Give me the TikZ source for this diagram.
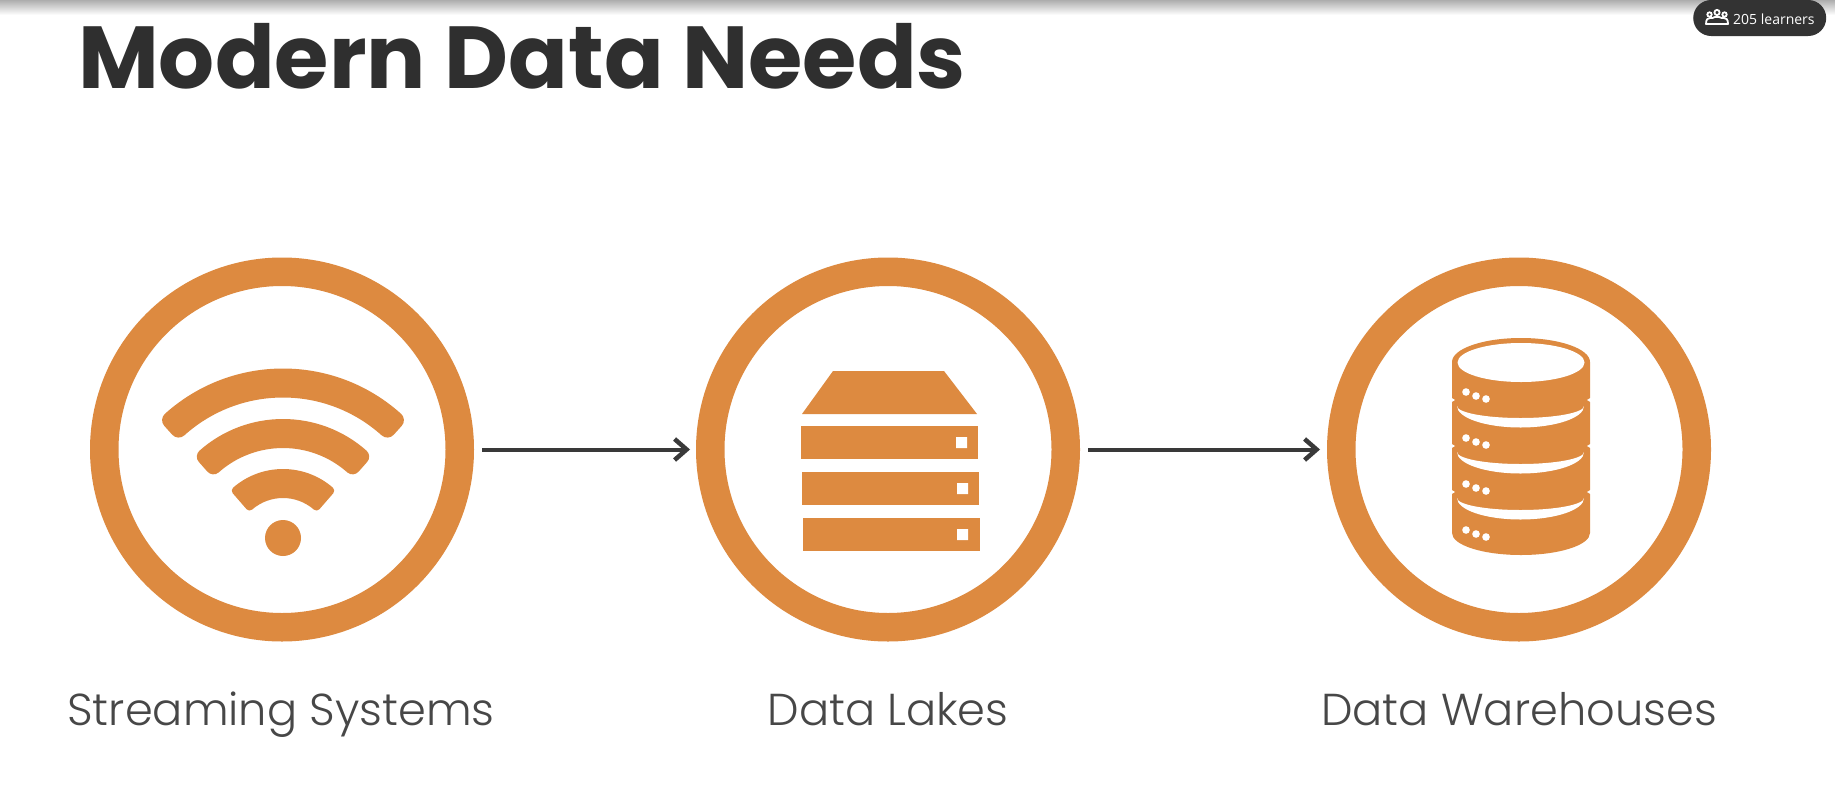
\documentclass[tikz,border=0pt]{standalone}
\usepackage{fontspec}
\usetikzlibrary{arrows.meta,calc}
\setmainfont{Lato}
\newfontfamily\titlefont{Poppins Bold}
\newfontfamily\labelfont{Poppins Light}
\newfontfamily\badgefont{Open Sans}
\definecolor{ringorange}{HTML}{DD8A40}
\definecolor{inktext}{HTML}{474747}
\definecolor{titleink}{HTML}{2F2F2F}
\definecolor{badgeink}{HTML}{333333}
\tikzset{
  ring/.style={circle,draw=ringorange,line width=28.5pt,minimum size=355.5pt,inner sep=0pt,outer sep=14.25pt,fill=white},
  caption/.style={anchor=base,text=inktext,font=\labelfont\fontsize{44.7}{60}\selectfont},
  flow/.style={draw=titleink!95!white,line width=4pt,-{Straight Barb[length=12pt,width=21pt,line width=4.5pt]}},
  ofill/.style={fill=ringorange},
  wband/.style={fill=ringorange,draw=ringorange,line join=round},
}
\newcommand{\wifiband}[4]{% mid radius, half thickness, corner radius, half angle
  \pgfmathsetmacro{\ro}{#1+#2-#3}\pgfmathsetmacro{\ri}{#1-#2+#3}
  \path[wband,line width=2*#3 pt]
    ($(283,545)+(-90-#4:\ro)$) arc[start angle=-90-#4,end angle=-90+#4,radius=\ro]
    -- ($(283,545)+(-90+#4:\ri)$) arc[start angle=-90+#4,end angle=-90-#4,radius=\ri] -- cycle;
}
\begin{document}
\begin{tikzpicture}[x=1pt,y=-1pt]
\useasboundingbox (0,0) rectangle (1835,795);
\fill[white] (0,0) rectangle (1835,795);
\shade[top color=black!32,bottom color=white,shading angle=0] (0,0) rectangle (1835,15);
% badge
\node[anchor=west,fill=badgeink,rounded corners=18pt,minimum width=133pt,minimum height=36pt,inner sep=0pt] (badge) at (1693,18) {};
\node[anchor=west,text=white,font=\badgefont\fontsize{14}{16}\selectfont,inner sep=0pt] (badgetext) at (1733,19) {205 learners};
\begin{scope}[white,line width=1.8pt]
  \draw (1717,12.5) circle (2.6) (1709.5,14.5) circle (2.2) (1724.5,14.5) circle (2.2);
  \draw[line join=round] (1706,24) .. controls (1706,19) and (1708,18) .. (1710,18) .. controls (1711,18) and (1712,18) .. (1712.5,18) .. controls (1714,16.5) and (1720,16.5) .. (1721.5,18) .. controls (1722,18) and (1723,18) .. (1724,18) .. controls (1726,18) and (1728,19) .. (1728,24) -- cycle;
\end{scope}
% title
\node[anchor=base west,inner sep=0pt,text=titleink,font=\titlefont\fontsize{88}{96}\selectfont] (title) at (78,88) {Modern Data Needs};
% rings
\node[ring] (stream) at (282,449.5) {};
\node[ring] (lake) at (888,449.5) {};
\node[ring] (wh) at (1519,449.5) {};
\draw[flow,shorten <=8pt,shorten >=6pt] (stream) -- (lake);
\draw[flow,shorten <=8pt,shorten >=7pt] (lake) -- (wh);
% wifi
\wifiband{162}{14.5}{8.5}{42}
\wifiband{111.5}{14.5}{8}{41.5}
\wifiband{61.5}{14.5}{4}{41}
\fill[ofill] (283,538) circle (18);
% server
\fill[ofill] (833,371) -- (944,371) -- (977,414) -- (802,414) -- cycle;
\fill[ofill] (801,426) rectangle (978,459);
\fill[ofill] (802,472) rectangle (979,505);
\fill[ofill] (803,518) rectangle (980,551);
\fill[white] (956,437) rectangle (967,448) (957,483) rectangle (968,494) (957,529) rectangle (968,540);
% database
\fill[ofill] (1452,362) arc[start angle=180,end angle=360,x radius=69,y radius=24]
  -- (1590,533) arc[start angle=0,end angle=180,x radius=69,y radius=22] -- cycle;
\fill[white] (1521,362.5) ellipse[x radius=63.5,y radius=19.5];
\foreach \dy in {0,46,92}{
  \fill[white] (1457,406+\dy) arc[start angle=180,end angle=0,x radius=63.5,y radius=12]
     arc[start angle=0,end angle=180,x radius=63.5,y radius=21.5] -- cycle;
  \fill[white] (1450,397+\dy) -- (1455,400+\dy) -- (1450,403+\dy) -- cycle;
  \fill[white] (1592,397+\dy) -- (1587,400+\dy) -- (1592,403+\dy) -- cycle;
}
\foreach \dy in {0,46,92,138}{
  \fill[white] (1466,392+\dy) circle (3.8) (1476,396+\dy) circle (3.8) (1486,399+\dy) circle (3.8);
}
% captions
\node[caption] (c1) at (281,725) {Streaming Systems};
\node[caption] (c2) at (888,725) {Data Lakes};
\node[caption] (c3) at (1519,725) {Data Warehouses};
\end{tikzpicture}
\end{document}
